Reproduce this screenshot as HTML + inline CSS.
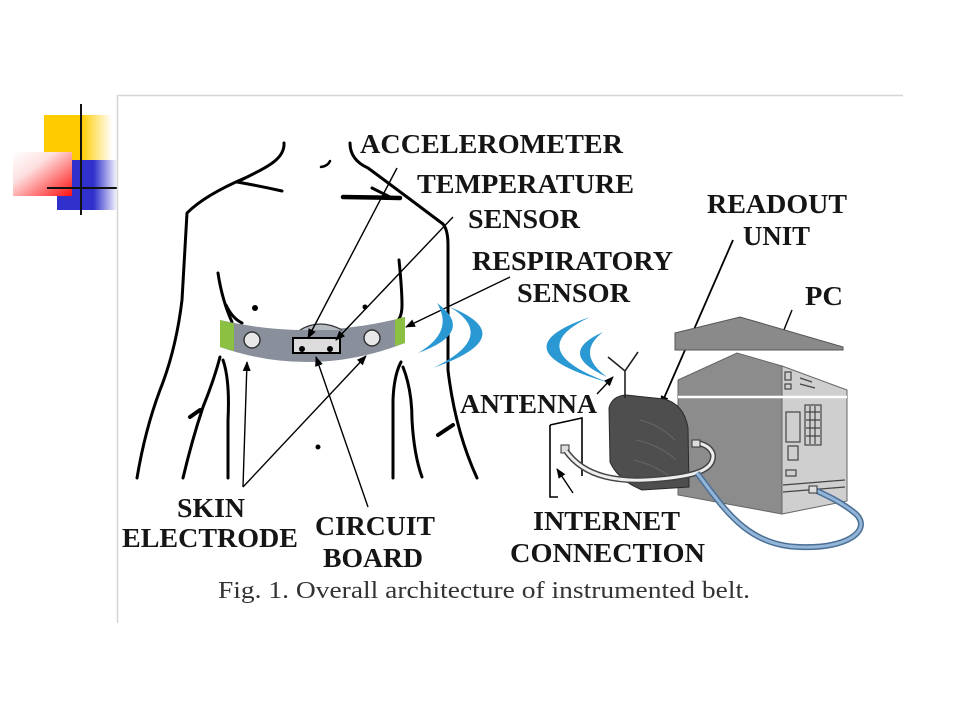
<!DOCTYPE html>
<html><head><meta charset="utf-8"><style>
html,body{margin:0;padding:0;background:#fff;}
svg{display:block;}
.lb{font-family:"Liberation Serif",serif;font-weight:bold;font-size:27px;fill:#151515;}
.cap{font-family:"Liberation Serif",serif;font-size:24px;fill:#333;}
</style></head><body>
<svg width="960" height="720" viewBox="0 0 960 720" xmlns="http://www.w3.org/2000/svg">
<defs>
<linearGradient id="gy" x1="0" y1="0" x2="1" y2="0">
<stop offset="0" stop-color="#ffcc00"/><stop offset="0.55" stop-color="#ffcc00"/><stop offset="1" stop-color="#fff"/>
</linearGradient>
<linearGradient id="gb" x1="0" y1="0" x2="1" y2="0">
<stop offset="0" stop-color="#3030cc"/><stop offset="0.6" stop-color="#3030cc"/><stop offset="1" stop-color="#fff"/>
</linearGradient>
<linearGradient id="gr" x1="0" y1="0" x2="1" y2="1">
<stop offset="0" stop-color="#fff"/><stop offset="0.35" stop-color="#fde0e0"/><stop offset="1" stop-color="#ff1010"/>
</linearGradient>
<marker id="ah" markerWidth="10" markerHeight="8" refX="9" refY="4" orient="auto" markerUnits="userSpaceOnUse">
<path d="M0,0 L10,4 L0,8 Z" fill="#000"/>
</marker>
</defs>

<!-- logo -->
<rect x="44" y="115" width="68" height="45" fill="url(#gy)"/>
<rect x="57" y="160" width="61" height="50" fill="url(#gb)"/>
<rect x="13" y="152" width="59" height="44" fill="url(#gr)"/>
<line x1="81" y1="104" x2="81" y2="215" stroke="#111" stroke-width="2"/>
<line x1="47" y1="188" x2="117" y2="188" stroke="#111" stroke-width="2"/>

<!-- frame -->
<line x1="117" y1="95.5" x2="903" y2="95.5" stroke="#d6d6d6" stroke-width="1.5"/>
<line x1="117.5" y1="95" x2="117.5" y2="623" stroke="#d6d6d6" stroke-width="1.5"/>

<!-- body -->
<g fill="none" stroke="#000" stroke-width="3" stroke-linecap="round" stroke-linejoin="round">
<path d="M284,143 C285,160 265,168 237,182"/>
<path d="M237,182 Q260,186 282,191"/>
<path d="M245,178 Q205,195 187,213 L182,300 Q176,350 160,390 Q145,430 137,478"/>
<path d="M218,273 Q222,300 232,322"/>
<path d="M226,305 Q232,318 242,323"/>
<path d="M220,357 Q214,380 203,407 Q192,440 183,478"/>
<path d="M190,417 L200,410" stroke-width="4"/>
<path d="M223,360 Q230,380 228,420 L228,478"/>
<path d="M350,143 Q350,160 368,168 L407,197 L443,224 Q448,230 448,245 L448,370 Q455,430 477,478"/>
<path d="M343,197 L400,198" stroke-width="4.5"/>
<path d="M372,188 L392,198"/>
<path d="M321,167 Q328,166 330,161" stroke-width="2.5"/>
<path d="M399,260 Q402,290 402,305 Q402,318 396,322"/>
<path d="M401,362 Q394,375 393,400 L393,478"/>
<path d="M403,367 Q412,390 412,420 Q414,455 422,477"/>
<path d="M438,435 L453,425" stroke-width="4"/>
</g>
<circle cx="255" cy="308" r="3" fill="#000"/>
<circle cx="318" cy="447" r="2.5" fill="#000"/>

<!-- belt -->
<path d="M220,320 Q312,341.5 405,317 L405,343 Q312,379 220,347 Z" fill="#8a909b"/>
<path d="M220,320 Q227,322 234,323.5 L234,351 Q227,349 220,347 Z" fill="#8cc043"/>
<path d="M395,319.5 Q400,318 405,317 L405,343 Q400,344.5 395,346 Z" fill="#8cc043"/>
<path d="M300,330 Q320,318 342,330" fill="#b7bbc2" stroke="#333" stroke-width="1.2"/>
<circle cx="252" cy="340" r="8" fill="#e8e8e8" stroke="#333" stroke-width="1.5"/>
<circle cx="372" cy="338" r="8" fill="#e8e8e8" stroke="#333" stroke-width="1.5"/>
<rect x="293" y="338" width="47" height="15" fill="#dcdcdc" stroke="#000" stroke-width="2"/>
<circle cx="302" cy="349" r="3" fill="#000"/>
<circle cx="330" cy="349" r="3" fill="#000"/>

<!-- leader lines -->
<g stroke="#000" stroke-width="1.4" fill="none" marker-end="url(#ah)">
<line x1="397" y1="168" x2="308" y2="338"/>
<line x1="453" y1="217" x2="336" y2="340"/>
<line x1="510" y1="277" x2="406" y2="327"/>
<line x1="243" y1="487" x2="247" y2="362"/>
<line x1="243" y1="487" x2="366" y2="356"/>
<line x1="368" y1="507" x2="316" y2="357"/>
<line x1="597" y1="394" x2="613" y2="377"/>
<line x1="733" y1="240" x2="661" y2="405" stroke-width="1.8"/>
<line x1="792" y1="310" x2="777" y2="347"/>
<line x1="573" y1="493" x2="557" y2="469"/>
</g>
<circle cx="365" cy="307" r="2.5" fill="#000"/>

<!-- crescents -->
<g fill="#2a98d2">
<path d="M437,303 Q476.5,332 418,353 Q454.5,332 437,303 Z"/>
<path d="M450,307 Q522.5,336.5 433,368 Q498.5,336.5 450,307 Z"/>
<path d="M590,317 Q494,350 610,383 Q520,350 590,317 Z"/>
<path d="M603,332 Q555,353.5 607,377 Q575,353.5 603,332 Z"/>
</g>

<!-- PC -->
<polygon points="675,333 740,317 843,347 843,350 675,350" fill="#8a8a8a" stroke="#555" stroke-width="1"/>
<polygon points="678,380 737,353 782,366 782,514 678,495" fill="#8c8c8c" stroke="#666" stroke-width="1"/>
<polygon points="782,366 847,390 847,501 782,514" fill="#cfcfcf" stroke="#666" stroke-width="1"/>
<line x1="678" y1="397" x2="847" y2="397" stroke="#fff" stroke-width="2.5"/>
<g fill="none" stroke="#444" stroke-width="1.2">
<rect x="785" y="372" width="6" height="8"/>
<rect x="785" y="384" width="6" height="5"/>
<path d="M800,378 L812,382 M800,384 L815,388"/>
<rect x="786" y="412" width="14" height="30"/>
<rect x="788" y="446" width="10" height="14"/>
<rect x="805" y="405" width="16" height="40"/>
<path d="M806,412 L820,412 M806,420 L820,420 M806,428 L820,428 M806,436 L820,436 M810,406 L810,444 M815,406 L815,444"/>
<rect x="786" y="470" width="10" height="6"/>
<path d="M783,485 L845,480 M783,492 L845,487"/>
</g>

<!-- wall socket -->
<path d="M550,425 L582,418 L582,476 M550,425 L550,497 L558,497" fill="none" stroke="#000" stroke-width="1.6"/>
<rect x="561" y="445" width="8" height="8" fill="#ddd" stroke="#333" stroke-width="1"/>

<!-- readout unit -->
<path d="M609,408 Q612,396 626,395 L664,399 Q684,404 688,428 L689,487 L642,490 Q618,480 610,462 Z" fill="#4e4e4e" stroke="#2a2a2a" stroke-width="1"/>
<path d="M640,420 Q660,425 675,440 M636,440 Q660,445 676,460 M634,460 Q655,465 672,478" fill="none" stroke="#666" stroke-width="1"/>

<!-- antenna -->
<g stroke="#222" stroke-width="1.6" fill="none">
<path d="M608,357 L625,371 L638,352 M625,371 L625,398"/>
</g>

<!-- cables -->
<path d="M566,451 C585,478 620,483 660,479 C695,476 714,470 713,455 Q711,446 698,443" fill="none" stroke="#444" stroke-width="6"/>
<path d="M566,451 C585,478 620,483 660,479 C695,476 714,470 713,455 Q711,446 698,443" fill="none" stroke="#eee" stroke-width="3"/>
<path d="M697,473 C722,505 745,546 800,547 C848,549 872,530 856,514 C843,503 828,496 815,490" fill="none" stroke="#4b6f95" stroke-width="6"/>
<path d="M697,473 C722,505 745,546 800,547 C848,549 872,530 856,514 C843,503 828,496 815,490" fill="none" stroke="#93b5d8" stroke-width="3"/>
<rect x="692" y="440" width="8" height="7" fill="#ddd" stroke="#333" stroke-width="1"/>
<rect x="809" y="486" width="8" height="7" fill="#ddd" stroke="#333" stroke-width="1"/>

<!-- labels -->
<text class="lb" x="360" y="153" textLength="263" lengthAdjust="spacingAndGlyphs">ACCELEROMETER</text>
<text class="lb" x="417" y="193" textLength="217" lengthAdjust="spacingAndGlyphs">TEMPERATURE</text>
<text class="lb" x="468" y="228" textLength="112" lengthAdjust="spacingAndGlyphs">SENSOR</text>
<text class="lb" x="472" y="270" textLength="201" lengthAdjust="spacingAndGlyphs">RESPIRATORY</text>
<text class="lb" x="517" y="302" textLength="113" lengthAdjust="spacingAndGlyphs">SENSOR</text>
<text class="lb" x="707" y="213" textLength="140" lengthAdjust="spacingAndGlyphs">READOUT</text>
<text class="lb" x="743" y="245" textLength="67" lengthAdjust="spacingAndGlyphs">UNIT</text>
<text class="lb" x="805" y="305" textLength="38" lengthAdjust="spacingAndGlyphs">PC</text>
<text class="lb" x="460" y="413" textLength="137" lengthAdjust="spacingAndGlyphs">ANTENNA</text>
<text class="lb" x="533" y="530" textLength="147" lengthAdjust="spacingAndGlyphs">INTERNET</text>
<text class="lb" x="510" y="562" textLength="195" lengthAdjust="spacingAndGlyphs">CONNECTION</text>
<text class="lb" x="177" y="517" textLength="68" lengthAdjust="spacingAndGlyphs">SKIN</text>
<text class="lb" x="122" y="547" textLength="176" lengthAdjust="spacingAndGlyphs">ELECTRODE</text>
<text class="lb" x="315" y="535" textLength="120" lengthAdjust="spacingAndGlyphs">CIRCUIT</text>
<text class="lb" x="323" y="567" textLength="100" lengthAdjust="spacingAndGlyphs">BOARD</text>
<text class="cap" x="218" y="598" textLength="532" lengthAdjust="spacingAndGlyphs">Fig. 1. Overall architecture of instrumented belt.</text>
</svg>
</body></html>
